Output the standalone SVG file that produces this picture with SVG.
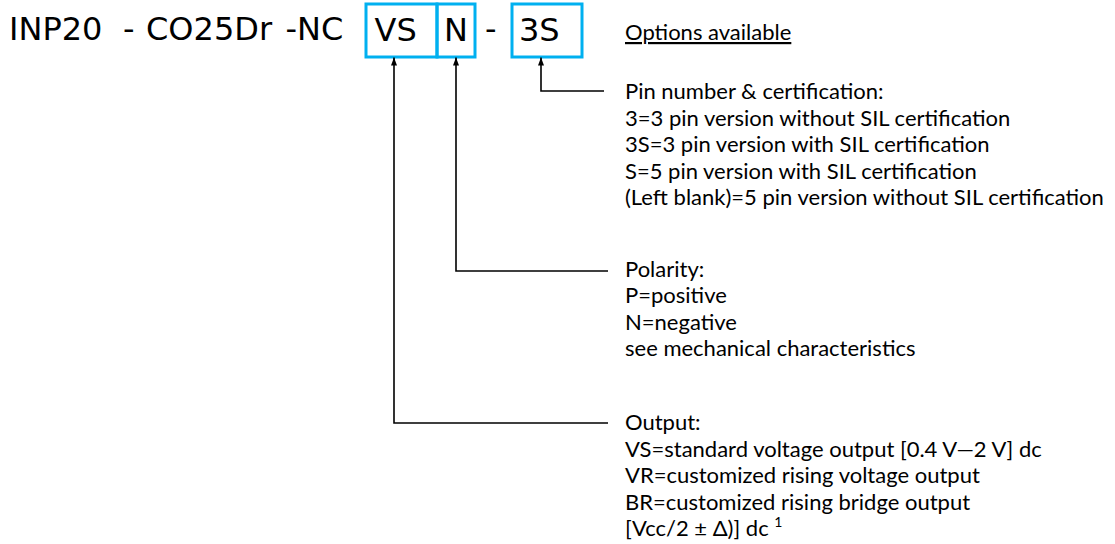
<svg xmlns="http://www.w3.org/2000/svg" width="1115" height="544" viewBox="0 0 1115 544">
<defs>
<style>
.title{font-family:"DejaVu Sans",Verdana,sans-serif;font-size:32px;fill:#000}
.lbl{font-family:Lato,"Open Sans",sans-serif;font-size:22px;fill:#000}
.box{fill:none;stroke:#00B0F0;stroke-width:3}
.conn{fill:none;stroke:#000;stroke-width:1.6}
</style>
<marker id="ah" viewBox="0 0 8 6" refX="8" refY="3" markerWidth="8" markerHeight="6" orient="auto" markerUnits="userSpaceOnUse">
<path d="M0,0 L8,3 L0,6 z" fill="#000"/>
</marker>
</defs>
<rect width="1115" height="544" fill="#fff"/>
<g id="code">
<text class="title" x="9" y="40">INP20</text>
<text class="title" x="123" y="40">-</text>
<text class="title" x="146" y="40">CO25Dr</text>
<text class="title" x="285.5" y="40">-NC</text>
<text class="title" x="485" y="40">-</text>
</g>
<g id="box-vs">
<rect class="box" x="366" y="4" width="71" height="53"/>
<text class="title" x="374.5" y="40.5">VS</text>
</g>
<g id="box-n">
<rect class="box" x="437" y="4" width="38" height="53"/>
<text class="title" x="444" y="40.5">N</text>
</g>
<g id="box-3s">
<rect class="box" x="512" y="4" width="70" height="53"/>
<text class="title" x="519" y="40.5">3S</text>
</g>
<g id="options">
<text class="lbl" x="625" y="40" text-decoration="underline">Options available</text>
</g>
<g id="connectors">
<path class="conn" d="M604,91 H541 V57.5" marker-end="url(#ah)"/>
<path class="conn" d="M608,271 H456 V57.5" marker-end="url(#ah)"/>
<path class="conn" d="M608,423 H394 V57.5" marker-end="url(#ah)"/>
</g>
<g id="pin">
<text class="lbl" x="625" y="99.3">Pin number &amp; certification:</text>
<text class="lbl" x="625" y="125.8">3=3 pin version without SIL certification</text>
<text class="lbl" x="625" y="152.3">3S=3 pin version with SIL certification</text>
<text class="lbl" x="625" y="178.8">S=5 pin version with SIL certification</text>
<text class="lbl" x="625" y="205.3">(Left blank)=5 pin version without SIL certification</text>
</g>
<g id="polarity">
<text class="lbl" x="625" y="276.5">Polarity:</text>
<text class="lbl" x="625" y="303">P=positive</text>
<text class="lbl" x="625" y="329.5">N=negative</text>
<text class="lbl" x="625" y="356">see mechanical characteristics</text>
</g>
<g id="output">
<text class="lbl" x="625" y="430">Output:</text>
<text class="lbl" x="625" y="456.5">VS=standard voltage output [0.4 V—2 V] dc</text>
<text class="lbl" x="625" y="483">VR=customized rising voltage output</text>
<text class="lbl" x="625" y="509.5">BR=customized rising bridge output</text>
<text class="lbl" x="625" y="536">[Vcc/2 ± Δ)] dc <tspan font-size="14" dy="-9">1</tspan></text>
</g>
</svg>
